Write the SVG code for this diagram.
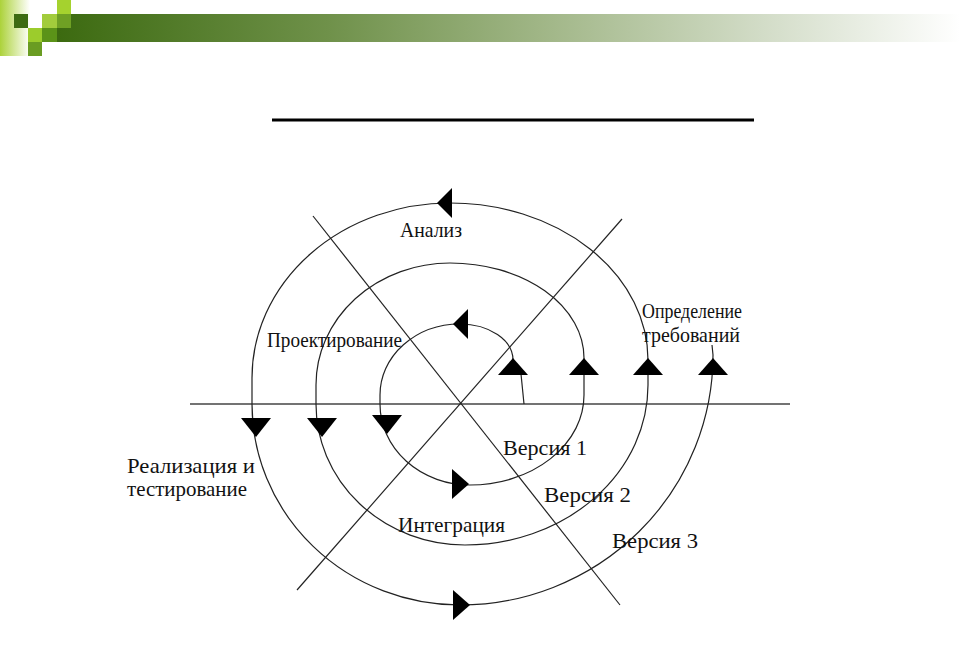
<svg xmlns="http://www.w3.org/2000/svg" xmlns:xlink="http://www.w3.org/1999/xlink" width="960" height="661" viewBox="0 0 960 661">
<style>
.ln{fill:none;stroke:#222;stroke-width:1.2}
.ax{fill:none;stroke:#444;stroke-width:1.5}
.ar{fill:#000}
.lb{font-family:"Liberation Serif","Times New Roman",serif;font-size:21px;fill:#111}
</style>
<defs>
<linearGradient id="band" x1="0" y1="0" x2="1" y2="0">
<stop offset="0" stop-color="#3c6a10"/>
<stop offset="0.3" stop-color="#6f914a"/>
<stop offset="0.55" stop-color="#a3b88a"/>
<stop offset="0.8" stop-color="#d6dfcc"/>
<stop offset="1" stop-color="#ffffff"/>
</linearGradient>
<linearGradient id="strip" x1="0" y1="0" x2="1" y2="0">
<stop offset="0" stop-color="#acd23a"/>
<stop offset="1" stop-color="#ffffff"/>
</linearGradient>
<path id="up" d="M0 0 L15 17 L-15 17 Z"/>
<path id="down" d="M0 0 L-15 -19 L15 -19 Z"/>
<path id="left" d="M0 0 L15 -15 L15 15 Z"/>
<path id="right" d="M0 0 L-17 -15 L-17 15 Z"/>
</defs>
<rect width="960" height="661" fill="#ffffff"/>
<g id="decor">
<rect x="0" y="0" width="30" height="56" fill="url(#strip)"/>
<rect x="57" y="14" width="903" height="28" fill="url(#band)"/>
<rect x="14" y="14" width="14" height="14" fill="#3d6b12"/>
<rect x="42" y="14" width="15" height="14" fill="#a2cc3c"/>
<rect x="57" y="0" width="14" height="14" fill="#a5d22e"/>
<rect x="57" y="14" width="14" height="14" fill="#6fa024"/>
<rect x="28" y="28" width="14" height="14" fill="#9ccc2c"/>
<rect x="42" y="28" width="15" height="14" fill="#5b9318"/>
<rect x="28" y="42" width="14" height="14" fill="#6a9c22"/>
</g>
<line id="title-rule" x1="272" y1="120" x2="754" y2="120" stroke="#000" stroke-width="3"/>
<g id="axes">
<line class="ax" x1="190" y1="404" x2="790" y2="404"/>
<line class="ln" x1="313" y1="216" x2="620" y2="605"/>
<line class="ln" x1="622" y1="219" x2="297" y2="590"/>
</g>
<g id="connectors">
<path class="ln" d="M524 404 L521 374 M513 360 A53 36 0 0 0 460 324 A80 71 0 0 0 380 395 L380 404 A90 81 0 0 0 470 485 A114 90 0 0 0 584 395 L584 358 A134 95 0 0 0 450 263 A134 122 0 0 0 316 385 L316 404 A149 141 0 0 0 465 545 A183 160 0 0 0 648 385 L648 360 A198 157 0 0 0 450 203 A198 175 0 0 0 252 378 L252 404 A208 201 0 0 0 460 605 A253 250 0 0 0 713 355 L712 345"/>
<use xlink:href="#up" class="ar" x="513" y="358"/>
<use xlink:href="#up" class="ar" x="584" y="358"/>
<use xlink:href="#up" class="ar" x="648" y="358"/>
<use xlink:href="#up" class="ar" x="713" y="358"/>
<use xlink:href="#down" class="ar" x="256" y="437"/>
<use xlink:href="#down" class="ar" x="322" y="437"/>
<use xlink:href="#down" class="ar" x="387" y="434"/>
<use xlink:href="#left" class="ar" x="437" y="203"/>
<use xlink:href="#left" class="ar" x="453" y="324"/>
<use xlink:href="#right" class="ar" x="469" y="484"/>
<use xlink:href="#right" class="ar" x="470" y="605"/>
</g>
<g id="analysis"><text class="lb" x="400" y="237" textLength="62" lengthAdjust="spacingAndGlyphs">Анализ</text></g>
<g id="design"><text class="lb" x="267" y="347" textLength="135" lengthAdjust="spacingAndGlyphs">Проектирование</text></g>
<g id="requirements">
<text class="lb" x="642" y="318" textLength="100" lengthAdjust="spacingAndGlyphs">Определение</text>
<text class="lb" x="642" y="342" textLength="98" lengthAdjust="spacingAndGlyphs">требований</text>
</g>
<g id="implementation">
<text class="lb" x="127" y="473" textLength="128" lengthAdjust="spacingAndGlyphs">Реализация и</text>
<text class="lb" x="127" y="496" textLength="120" lengthAdjust="spacingAndGlyphs">тестирование</text>
</g>
<g id="integration"><text class="lb" x="398" y="532" textLength="107" lengthAdjust="spacingAndGlyphs">Интеграция</text></g>
<g id="version1"><text class="lb" x="503" y="455" textLength="84" lengthAdjust="spacingAndGlyphs">Версия 1</text></g>
<g id="version2"><text class="lb" x="544" y="502" textLength="87" lengthAdjust="spacingAndGlyphs">Версия 2</text></g>
<g id="version3"><text class="lb" x="612" y="548" textLength="86" lengthAdjust="spacingAndGlyphs">Версия 3</text></g>
</svg>
